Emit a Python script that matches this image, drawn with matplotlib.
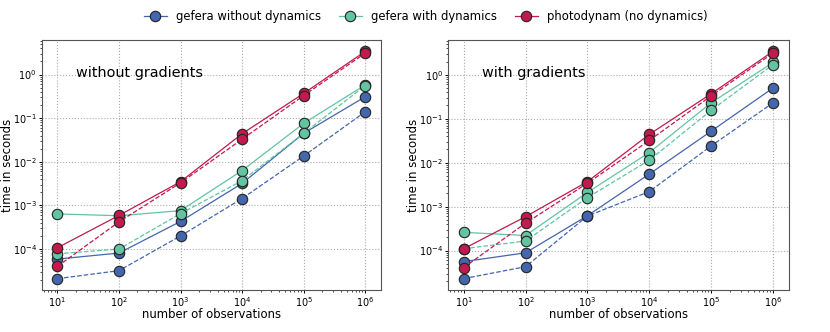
import matplotlib
matplotlib.use("Agg")
import matplotlib.pyplot as plt

n_obs = [1e1, 1e2, 1e3, 1e4, 1e5, 1e6]

# without gradients (left panel)
nograd_gefera_nodyn_solid = [5.9e-5, 8.1e-5, 4.3e-4, 3.2e-3, 0.045, 0.31]
nograd_gefera_nodyn_dash = [2.1e-5, 3.2e-5, 2.0e-4, 1.44e-3, 0.0136, 0.14]
nograd_gefera_dyn_solid = [6.4e-4, 5.8e-4, 7.6e-4, 6.3e-3, 0.076, 0.58]
nograd_gefera_dyn_dash = [7.8e-5, 1.0e-4, 6.5e-4, 3.7e-3, 0.045, 0.56]
nograd_photo_solid = [1.07e-4, 5.9e-4, 3.5e-3, 0.044, 0.37, 3.4]
nograd_photo_dash = [4.0e-5, 4.2e-4, 3.3e-3, 0.033, 0.33, 3.1]

# with gradients (right panel)
grad_gefera_nodyn_solid = [5.6e-5, 8.9e-5, 6.2e-4, 5.5e-3, 0.052, 0.50]
grad_gefera_nodyn_dash = [2.3e-5, 4.3e-5, 6.1e-4, 2.2e-3, 0.024, 0.23]
grad_gefera_dyn_solid = [2.6e-4, 2.2e-4, 2.1e-3, 0.017, 0.23, 1.9]
grad_gefera_dyn_dash = [1.1e-4, 1.65e-4, 1.6e-3, 0.0114, 0.155, 1.7]
grad_photo_solid = [1.1e-4, 5.9e-4, 3.7e-3, 0.044, 0.37, 3.4]
grad_photo_dash = [4.1e-5, 4.2e-4, 3.4e-3, 0.032, 0.33, 3.1]

labels = ["gefera without dynamics", "gefera with dynamics", "photodynam (no dynamics)"]
colors = ["#4466ad", "#62c4a1", "#c21a4c"]
panel_titles = ["without gradients", "with gradients"]

panels = [
    [(nograd_gefera_nodyn_solid, nograd_gefera_nodyn_dash),
     (nograd_gefera_dyn_solid, nograd_gefera_dyn_dash),
     (nograd_photo_solid, nograd_photo_dash)],
    [(grad_gefera_nodyn_solid, grad_gefera_nodyn_dash),
     (grad_gefera_dyn_solid, grad_gefera_dyn_dash),
     (grad_photo_solid, grad_photo_dash)],
]

fig = plt.figure(figsize=(8.3, 3.32), dpi=100)
ax1 = fig.add_axes([0.0506, 0.1265, 0.408, 0.753])
ax2 = fig.add_axes([0.540, 0.1265, 0.41, 0.753])

handles = []
for ax, series, title in zip([ax1, ax2], panels, panel_titles):
    for (solid, dash), col, lab in zip(series, colors, labels):
        h, = ax.plot(n_obs, solid, '-', color=col, lw=0.9, marker='o', ms=7.5,
                     mfc=col, mec='#222222', mew=0.8, label=lab)
        ax.plot(n_obs, dash, '--', color=col, lw=0.9, marker='o', ms=7.5,
                mfc=col, mec='#222222', mew=0.8)
        if ax is ax1:
            handles.append(h)
    ax.set_xscale('log')
    ax.set_yscale('log')
    ax.grid(True, which='major', ls=':', color='#aaaaaa', lw=0.8)
    ax.set_axisbelow(True)
    ax.tick_params(which='major', labelsize=7, pad=1.2, length=2.5, width=0.7)
    ax.tick_params(which='minor', length=1.5, width=0.5)
    ax.set_xlabel('number of observations', fontsize=8.4, labelpad=-1)
    ax.set_ylabel('time in seconds', fontsize=8.5)
    ax.yaxis.set_label_coords(-0.083, 0.5)
    for sp in ax.spines.values():
        sp.set_color('#555555')
    ax.text(0.1, 0.87, title, transform=ax.transAxes, fontsize=10.4, va='center', ha='left')

fig.legend(handles=handles, loc='upper center', ncol=3, frameon=False,
           fontsize=8.4, bbox_to_anchor=(0.513, 1.0), handlelength=2.0,
           handletextpad=0.8, columnspacing=1.5)

fig.savefig('out.png', dpi=100)
